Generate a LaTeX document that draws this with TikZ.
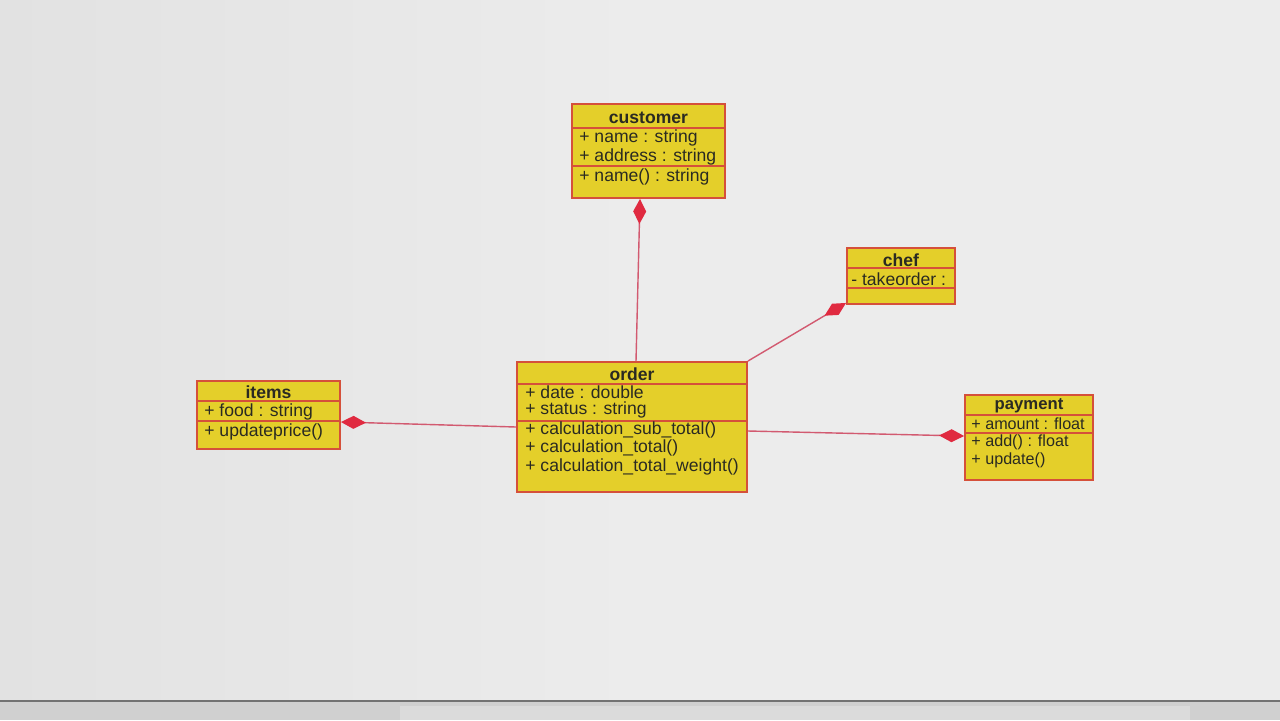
\documentclass[tikz,border=0pt]{standalone}
\usepackage{fontspec}
\setmainfont{Liberation Sans}
\usetikzlibrary{arrows.meta,calc}
\definecolor{bgc}{HTML}{E2E2E2}
\definecolor{bgl}{HTML}{ECECEC}
\definecolor{boxfill}{HTML}{E4CF2A}
\definecolor{boxline}{HTML}{D5503A}
\definecolor{linec}{HTML}{D25A70}
\definecolor{diac}{HTML}{E02A40}
\definecolor{txt}{HTML}{2A2A22}
\tikzset{
  classbox/.style={draw=boxline, line width=1.1pt, fill=boxfill, inner sep=0pt},
  divider/.style={draw=boxline, line width=1.3pt},
  title/.style={font=\bfseries\fontsize{10}{12}\selectfont, text=txt, inner sep=0pt},
  member/.style={font=\fontsize{10}{12}\selectfont, text=txt, anchor=west, inner sep=0pt},
  smember/.style={font=\fontsize{9.2}{11}\selectfont, text=txt, anchor=west, inner sep=0pt},
  assoc/.style={draw=linec, line width=0.8pt},
  comp/.style={assoc, -{Diamond[length=0.5cm,width=0.26cm,fill=diac,color=diac]}},
}
\begin{document}
\begin{tikzpicture}[x=0.02cm, y=-0.02cm]
% background
\useasboundingbox (0,0) rectangle (1280,720);
\shade[left color=bgc, right color=bgl, middle color=bgl] (0,0) rectangle (1280,700);
\fill[bgc!92!black] (0,700) rectangle (1280,720);
\draw[line width=1.2pt, black!55] (0,701) -- (1280,701);
\fill[bgc!97!black] (400,706) rectangle (1190,720);

% customer
\node[classbox, minimum width=3.06cm, minimum height=1.88cm] (customer) at (648.5,151) {};
\node[title] (customerT) at (648.5,118) {customer};
\draw[divider] (572,128) -- (725,128);
\draw[divider] (572,166) -- (725,166);
\node[member] (c1) at (579,138) {+ name : string};
\node[member] (c2) at (579,157) {+ address : string};
\node[member] (c3) at (579,177) {+ name() : string};

% chef
\node[classbox, minimum width=2.16cm, minimum height=1.12cm] (chef) at (901,276) {};
\node[title] (chefT) at (901,260) {chef};
\draw[divider] (847,268) -- (955,268);
\draw[divider] (847,288) -- (955,288);
\node[member] (h1) at (851,279) {- takeorder :};

% items
\node[classbox, minimum width=2.86cm, minimum height=1.36cm] (items) at (268.5,415) {};
\node[title] (itemsT) at (268.5,392) {items};
\draw[divider] (197,401) -- (340,401);
\draw[divider] (197,421) -- (340,421);
\node[member] (i1) at (204,412) {+ food : string};
\node[member] (i2) at (204,432) {+ updateprice()};

% order
\node[classbox, minimum width=4.6cm, minimum height=2.6cm] (order) at (632,427) {};
\node[title] (orderT) at (632,374) {order};
\draw[divider] (517,384) -- (747,384);
\draw[divider] (517,421) -- (747,421);
\node[member] (o1) at (525,392) {+ date : double};
\node[member] (o2) at (525,410) {+ status : string};
\node[member] (o3) at (525,430) {+ calculation\_sub\_total()};
\node[member] (o4) at (525,448) {+ calculation\_total()};
\node[member] (o5) at (525,467) {+ calculation\_total\_weight()};

% payment
\node[classbox, minimum width=2.56cm, minimum height=1.7cm] (payment) at (1029,437.5) {};
\node[title, font=\bfseries\fontsize{9.5}{11}\selectfont] (paymentT) at (1029,406) {payment};
\draw[divider] (965,415) -- (1093,415);
\draw[divider] (965,433) -- (1093,433);
\node[smember] (p1) at (971,424) {+ amount : float};
\node[smember] (p2) at (971,442) {+ add() : float};
\node[smember] (p3) at (971,460) {+ update()};

% connectors
\draw[comp] ([xshift=0.08cm]order.north) -- ([xshift=-0.17cm]customer.south);
\draw[comp] (order.north east) -- ([yshift=0.04cm]chef.south west);
\draw[comp] (order.west) -- ([yshift=-0.14cm]items.east);
\draw[comp] ([yshift=-0.08cm]order.east) -- ([yshift=0.03cm]payment.west);
\end{tikzpicture}
\end{document}
